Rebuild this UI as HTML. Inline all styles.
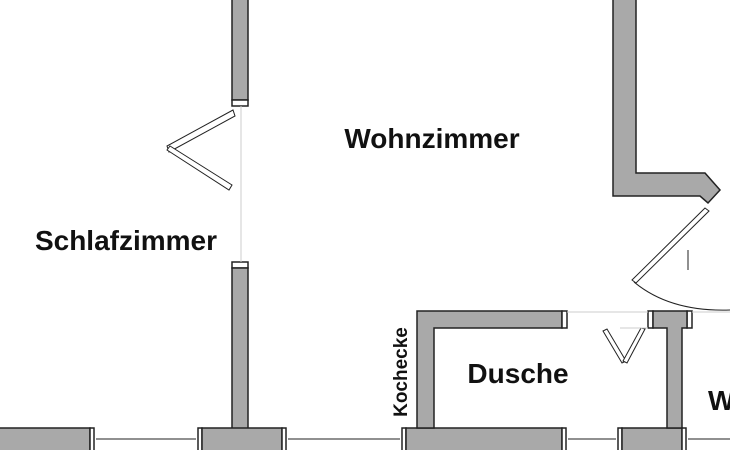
<!DOCTYPE html>
<html><head><meta charset="utf-8"><style>
html,body{margin:0;padding:0;background:#fff;width:730px;height:450px;overflow:hidden}
text{font-family:"Liberation Sans",Arial,sans-serif;font-weight:bold;fill:#111}
</style></head><body>
<svg width="730" height="450" viewBox="0 0 730 450" xmlns="http://www.w3.org/2000/svg">
<g fill="#a9a9a9" stroke="#222" stroke-width="1.5">
<rect x="232" y="-2" width="16" height="102"/>
<rect x="232" y="100" width="16" height="6" fill="#fff"/>
<rect x="232" y="262" width="16" height="6" fill="#fff"/>
<rect x="232" y="268" width="16" height="162"/>
<rect x="-2" y="428" width="92" height="24"/>
<rect x="90" y="428" width="4" height="24" fill="#fff"/>
<rect x="198" y="428" width="4" height="24" fill="#fff"/>
<rect x="202" y="428" width="80" height="24"/>
<rect x="282" y="428" width="4" height="24" fill="#fff"/>
<rect x="402" y="428" width="4" height="24" fill="#fff"/>
<rect x="406" y="428" width="156" height="24"/>
<rect x="562" y="428" width="4" height="24" fill="#fff"/>
<rect x="618" y="428" width="4" height="24" fill="#fff"/>
<rect x="622" y="428" width="60" height="24"/>
<rect x="682" y="428" width="4" height="24" fill="#fff"/>
<path d="M417 311 H562 V328 H434 V428 H417 Z"/>
<rect x="562" y="311" width="5" height="17" fill="#fff"/>
<rect x="648" y="311" width="5" height="17" fill="#fff"/>
<rect x="687" y="311" width="5" height="17" fill="#fff"/>
<path d="M653 311 H687 V328 H682 V428 H667 V328 H653 Z"/>
<path d="M613 -2 H636 V173 H705 L720 190 L708 203 L700 196 H613 Z"/>
</g>
<g fill="none" stroke="#222" stroke-width="1">
<line x1="96" y1="439" x2="196" y2="439"/>
<line x1="288" y1="439" x2="400" y2="439"/>
<line x1="568" y1="439" x2="616" y2="439"/>
<line x1="688" y1="439" x2="730" y2="439"/>
<path d="M233 110 L167 146 L169 152 L235 116 Z" fill="#fff"/>
<path d="M167 150 L229 190 L232 185 L170 146 Z" fill="#fff"/>
<path d="M603 331 L622 363 L626 361 L607 329 Z" fill="#fff"/>
<path d="M645 329 L627 363 L623 361 L641 328 Z" fill="#fff"/>
<path d="M705 208 L632 280 L636 283 L709 211 Z" fill="#fff"/>
<path d="M634 282 Q670 312 730 310"/>
<line x1="688" y1="250" x2="688" y2="270"/>
</g>
<g stroke="#ccc" stroke-width="1">
<line x1="241" y1="106" x2="241" y2="262"/>
<line x1="567" y1="312" x2="648" y2="312"/>
<line x1="692" y1="312" x2="730" y2="312"/>
<line x1="620" y1="328" x2="648" y2="328"/>
</g>
<text x="432" y="148" font-size="28" text-anchor="middle">Wohnzimmer</text>
<text x="126" y="250" font-size="28" text-anchor="middle">Schlafzimmer</text>
<text x="518" y="383" font-size="28" text-anchor="middle">Dusche</text>
<text x="708" y="410" font-size="28">W</text>
<text transform="translate(407,372) rotate(-90)" font-size="19" text-anchor="middle">Kochecke</text>
</svg>
</body></html>
